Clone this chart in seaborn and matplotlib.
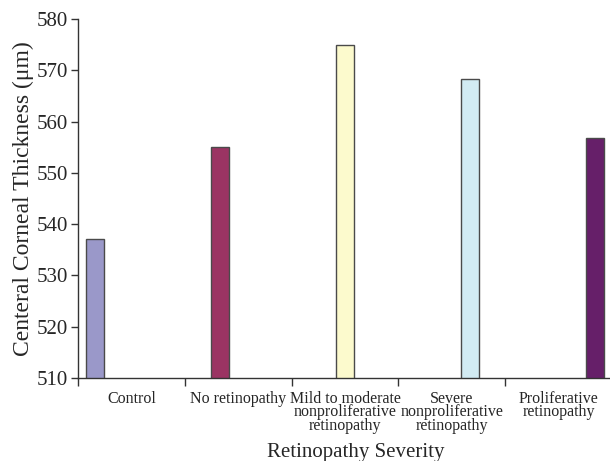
import matplotlib
matplotlib.use("Agg")
import matplotlib.pyplot as plt
import seaborn as sns
import numpy as np

categories = [
    "Control",
    "No retinopathy",
    "Mild to moderate\nnonproliferative\nretinopathy",
    "Severe\nnonproliferative\nretinopathy",
    "Proliferative\nretinopathy",
]
thickness = [537.1, 555.0, 574.9, 568.3, 556.7]
colors = ["#9a98c9", "#9b3463", "#fcfacd", "#d2ebf3", "#661f69"]
y_ticks = [510, 520, 530, 540, 550, 560, 570, 580]

sns.set_theme(style="white")
plt.rcParams['font.family'] = ['Liberation Serif', 'DejaVu Serif']

fig = plt.figure(figsize=(6.1, 4.61), dpi=100)
ax = fig.add_axes([0.128, 0.18, 0.875, 0.779])

sns.barplot(x=categories, y=thickness, hue=categories, palette=colors,
            saturation=1, dodge=True, width=0.85, edgecolor="#4a4a4a",
            linewidth=1, legend=False, ax=ax)

ax.set_ylim(510, 580)
ax.set_xlim(-0.5, 4.5)
ax.set_yticks(y_ticks)
ax.set_yticklabels([str(t) for t in y_ticks], fontsize=15)

# boundaries get the tick marks, labels sit between them
ax.set_xticks(np.arange(-0.5, 5.0, 1.0))
ax.set_xticklabels([])
ax.set_xticks(range(len(categories)), minor=True)
ax.set_xticklabels(categories, minor=True, fontsize=11.5, linespacing=0.8)
ax.tick_params(axis="x", which="major", direction="out", length=6, width=1, color="#333333", bottom=True)
ax.tick_params(axis="x", which="minor", length=0, pad=9)
ax.tick_params(axis="y", direction="out", length=5, width=1, color="#333333", left=True, pad=2)

for side in ["top", "right"]:
    ax.spines[side].set_visible(False)
for side in ["left", "bottom"]:
    ax.spines[side].set_color("#333333")
    ax.spines[side].set_linewidth(1)

ax.set_ylabel("Centeral Corneal Thickness (μm)", fontsize=17, labelpad=2)
ax.set_xlabel("Retinopathy Severity", fontsize=15)
ax.xaxis.set_label_coords(0.52, -0.182)

fig.savefig("out.png", dpi=100)
